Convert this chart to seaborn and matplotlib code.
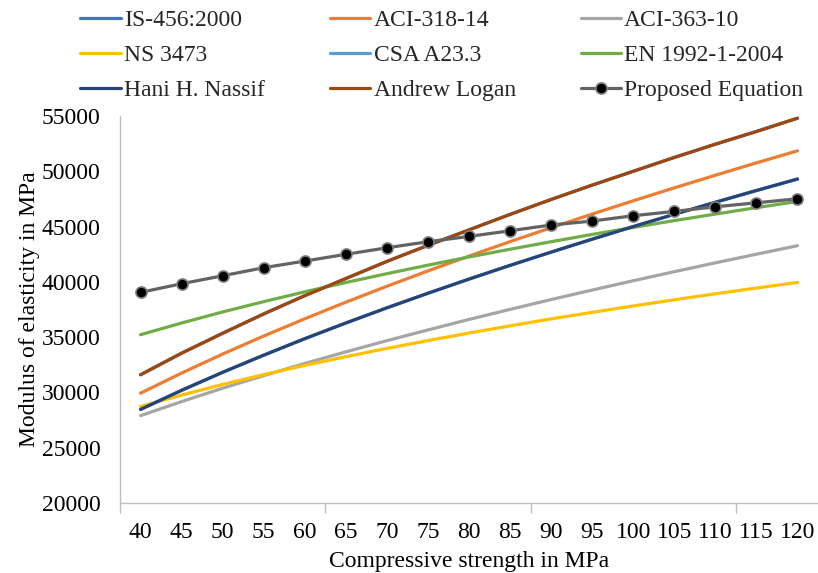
import pandas as pd
import matplotlib.pyplot as plt
import seaborn as sns

# compressive strength categories (MPa)
strength = [40, 45, 50, 55, 60, 65, 70, 75, 80, 85, 90, 95, 100, 105, 110, 115, 120]

# modulus of elasticity (MPa)
is_456 = [31600, 33550, 35350, 37100, 38750, 40300, 41850, 43300, 44700,
          46100, 47450, 48750, 50000, 51250, 52450, 53600, 54800]
aci_318 = [29930, 31750, 33470, 35100, 36660, 38160, 39600, 40990, 42330,
           43640, 44900, 46130, 47330, 48500, 49640, 50760, 51850]
aci_363 = [27900, 29170, 30380, 31520, 32620, 33670, 34680, 35650, 36600,
           37510, 38400, 39260, 40100, 40920, 41720, 42500, 43270]
ns_3473 = [28730, 29760, 30720, 31610, 32450, 33230, 33980, 34690, 35370,
           36020, 36650, 37240, 37820, 38380, 38920, 39440, 39950]
csa_a23 = [28460, 30190, 31820, 33370, 34860, 36280, 37650, 38970, 40250,
           41490, 42690, 43860, 45000, 46110, 47200, 48260, 49300]
en_1992 = [35220, 36280, 37280, 38210, 39100, 39940, 40740, 41510, 42250,
           42950, 43630, 44290, 44920, 45540, 46130, 46710, 47270]
nassif = [28460, 30190, 31820, 33370, 34860, 36280, 37650, 38970, 40250,
          41490, 42690, 43860, 45000, 46110, 47200, 48260, 49300]
logan = [31600, 33550, 35350, 37100, 38750, 40300, 41850, 43300, 44700,
         46100, 47450, 48750, 50000, 51250, 52450, 53600, 54800]
proposed = [39050, 39830, 40550, 41280, 41880, 42490, 43080, 43630, 44110,
            44620, 45140, 45500, 45980, 46370, 46790, 47150, 47510]

series = [
    ("IS-456:2000", is_456, "#4472C4"),
    ("ACI-318-14", aci_318, "#ED7D31"),
    ("ACI-363-10", aci_363, "#A5A5A5"),
    ("NS 3473", ns_3473, "#FFC000"),
    ("CSA A23.3", csa_a23, "#5B9BD5"),
    ("EN 1992-1-2004", en_1992, "#70AD47"),
    ("Hani H. Nassif", nassif, "#264478"),
    ("Andrew Logan", logan, "#9E480E"),
]

sns.set_theme(style="white")
plt.rcParams["font.family"] = ["Liberation Serif", "DejaVu Serif"]

fig = plt.figure(figsize=(8.18, 5.73), dpi=100)
ax = fig.add_axes([120 / 818, 70 / 573, 698 / 818, 387 / 573])

handles = {}
for name, vals, col in series:
    df = pd.DataFrame({"fc": strength, "E": vals})
    sns.lineplot(data=df, x="fc", y="E", ax=ax, color=col, linewidth=2.3, label=name)
    handles[name] = ax.get_lines()[-1]

df = pd.DataFrame({"fc": strength, "E": proposed})
sns.lineplot(data=df, x="fc", y="E", ax=ax, color="#636363", linewidth=2.3,
             marker="o", markersize=8, markerfacecolor="black",
             markeredgecolor="#7f7f7f", markeredgewidth=1.2, label="Proposed Equation")
handles["Proposed Equation"] = ax.get_lines()[-1]

ax.set_xlim(37.5, 122.5)
ax.set_ylim(20000, 55000)
ax.set_xticks(strength)
ax.set_xticks([37.5, 62.5, 87.5, 112.5], minor=True)
ax.set_yticks(range(20000, 55001, 5000))
ax.tick_params(axis="x", which="major", length=0, pad=13.5, labelsize=17, colors="black")
ax.tick_params(axis="x", which="minor", length=7, width=1, color="#bfbfbf", direction="out", bottom=True)
ax.tick_params(axis="y", length=0, pad=14, labelsize=17, colors="black")

for s in ["top", "right"]:
    ax.spines[s].set_visible(False)
for s in ["left", "bottom"]:
    ax.spines[s].set_color("#bfbfbf")
    ax.spines[s].set_linewidth(1)

ax.set_xlabel("Compressive strength in MPa", fontsize=17, color="black", labelpad=6)
ax.set_ylabel("Modulus of elasticity in MPa", fontsize=17, color="black")
ax.yaxis.set_label_coords(-0.115, 0.5)

# legend fills column-wise, so reorder to keep Excel's row order
order = ["IS-456:2000", "NS 3473", "Hani H. Nassif",
         "ACI-318-14", "CSA A23.3", "Andrew Logan",
         "ACI-363-10", "EN 1992-1-2004", "Proposed Equation"]
ax.legend([handles[n] for n in order], order, ncol=3, frameon=False,
          loc="upper left", bbox_to_anchor=(78 / 818, 1 - 7 / 573), bbox_transform=fig.transFigure,
          fontsize=17, handlelength=1.7, handletextpad=0.15, columnspacing=2.75,
          labelspacing=0.58, borderpad=0.1, borderaxespad=0)

plt.savefig("out.png", dpi=100)
plt.close()
